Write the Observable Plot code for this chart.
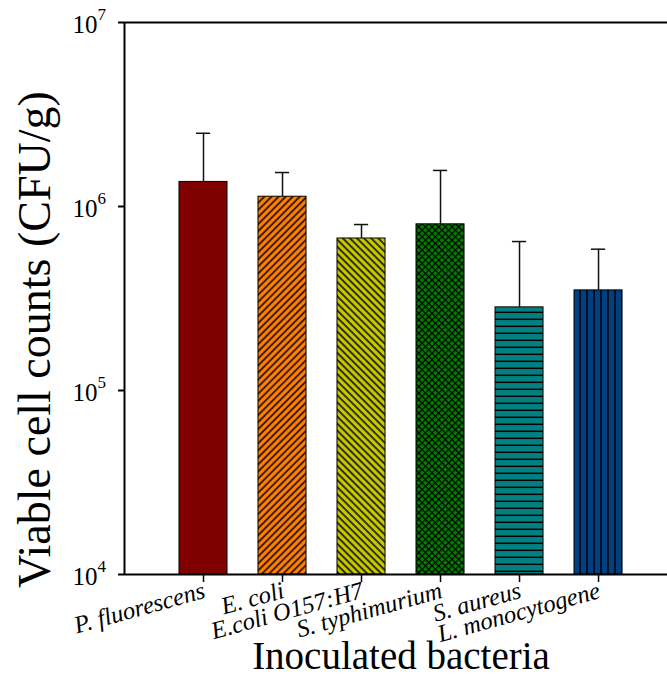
<!DOCTYPE html>
<html>
<head>
<meta charset="utf-8">
<script src="https://cdn.jsdelivr.net/npm/d3@7"></script>
<script src="https://cdn.jsdelivr.net/npm/@observablehq/plot@0.6"></script>
<style>
  html, body { margin: 0; padding: 0; background: #fff; }
  svg { display: block; }
</style>
</head>
<body>
<div id="chart"></div>
<script>
// ---- data ----
const categories = ["P. fluorescens", "E. coli", "E.coli O157:H7", "S. typhimurium", "S. aureus", "L. monocytogene"];
const means = [1.36e6, 1.13e6, 6.7e5, 8.0e5, 2.83e5, 3.5e5];
const sds = [1.14e6, 4.0e5, 1.28e5, 7.7e5, 3.62e5, 2.36e5];
const yTicks = [1e4, 1e5, 1e6, 1e7];
const fillColors = ["#800000", "#ff8000", "#c8c800", "#008000", "#008080", "#004080"];

const data = categories.map((c, i) => ({
  name: c, pos: i + 1, mean: means[i], sd: sds[i], top: means[i] + sds[i],
  fill: `url(#pat${i})`
}));
const positions = data.map(d => d.pos);

const serif = "Liberation Serif, Times New Roman, serif";
const halfBar = 0.304, halfCap = 0.09;

const chart = Plot.plot({
  width: 667,
  height: 680,
  marginLeft: 124,
  marginRight: 0,
  marginTop: 22,
  marginBottom: 106,
  style: { fontFamily: serif, background: "#fff", color: "#000" },
  x: { type: "linear", domain: [0, 6.873], axis: null },
  y: { type: "log", domain: [1e4, 1e7], axis: null },
  color: { type: "identity" },
  marks: [
    // bars
    Plot.rect(data, {
      x1: d => d.pos - halfBar, x2: d => d.pos + halfBar,
      y1: 1e4, y2: "mean",
      fill: "fill", stroke: "#000", strokeWidth: 1
    }),
    // error bars
    Plot.ruleX(data, { x: "pos", y1: "mean", y2: "top", stroke: "#111", strokeWidth: 1.5 }),
    Plot.ruleY(data, { y: "top", x1: d => d.pos - halfCap, x2: d => d.pos + halfCap, stroke: "#111", strokeWidth: 1.5 }),
    // ticks
    Plot.axisY(yTicks, { anchor: "left", tickSize: 6, strokeWidth: 2, tickFormat: () => "", label: null }),
    Plot.axisX(positions, { anchor: "bottom", tickSize: 8, strokeWidth: 1.5, tickFormat: () => "", label: null }),
    // frame lines
    Plot.ruleX([0], { y1: 1e4, y2: 1e7, stroke: "#000", strokeWidth: 2 }),
    Plot.ruleY([1e4, 1e7], { stroke: "#000", strokeWidth: 2 }),
    // y tick labels: "10" + superscript exponent
    Plot.text(yTicks, {
      x: 0, y: d => d, text: () => "10", textAnchor: "end",
      dx: -27, dy: 2, fontSize: 25, fontFamily: serif, fill: "#000"
    }),
    Plot.text(yTicks, {
      x: 0, y: d => d, text: d => String(Math.round(Math.log10(d))), textAnchor: "start",
      dx: -27, dy: -8, fontSize: 17, fontFamily: serif, fill: "#000"
    }),
    // x category labels (rotated, italic)
    Plot.text(data, {
      x: "pos", y: () => 1e4, text: "name",
      textAnchor: "end", lineAnchor: "bottom", rotate: -15.5,
      dx: 3, dy: 23, fontSize: 24.5, fontStyle: "italic", fontFamily: serif, fill: "#000"
    }),
    // axis titles
    Plot.text(["Viable cell counts (CFU/g)"], {
      frameAnchor: "left", textAnchor: "middle", lineAnchor: "middle", rotate: -90, dx: -89, dy: 41,
      fontSize: 46, fontFamily: serif, fill: "#000"
    }),
    Plot.text(["Inoculated bacteria"], {
      frameAnchor: "bottom", textAnchor: "middle", lineAnchor: "bottom", dx: 5, dy: 94,
      fontSize: 39, fontFamily: serif, fill: "#000"
    })
  ]
});

// hatch patterns
d3.select(chart).insert("defs", ":first-child").html(`
  <pattern id="pat0" patternUnits="userSpaceOnUse" width="8" height="8">
    <rect width="8" height="8" fill="${fillColors[0]}"/>
  </pattern>
  <pattern id="pat1" patternUnits="userSpaceOnUse" width="5" height="5" patternTransform="rotate(-45)">
    <rect width="5" height="5" fill="${fillColors[1]}"/>
    <line x1="-1" y1="1" x2="6" y2="1" stroke="#000" stroke-width="1.5"/>
  </pattern>
  <pattern id="pat2" patternUnits="userSpaceOnUse" width="5" height="5" patternTransform="rotate(45)">
    <rect width="5" height="5" fill="${fillColors[2]}"/>
    <line x1="-1" y1="1" x2="6" y2="1" stroke="#000" stroke-width="1.5"/>
  </pattern>
  <pattern id="pat3" patternUnits="userSpaceOnUse" width="4.7" height="4.7" patternTransform="rotate(45)">
    <rect width="4.7" height="4.7" fill="${fillColors[3]}"/>
    <line x1="-1" y1="0.6" x2="6" y2="0.6" stroke="#000" stroke-width="1.2"/>
    <line x1="0.6" y1="-1" x2="0.6" y2="6" stroke="#000" stroke-width="1.2"/>
  </pattern>
  <pattern id="pat4" patternUnits="userSpaceOnUse" width="7" height="7">
    <rect width="7" height="7" fill="${fillColors[4]}"/>
    <line x1="-1" y1="4.3" x2="8" y2="4.3" stroke="#000" stroke-width="1.5"/>
  </pattern>
  <pattern id="pat5" patternUnits="userSpaceOnUse" width="7" height="7">
    <rect width="7" height="7" fill="${fillColors[5]}"/>
    <line x1="6" y1="-1" x2="6" y2="8" stroke="#000" stroke-width="1.5"/>
  </pattern>
`);

document.getElementById("chart").appendChild(chart);
</script>
</body>
</html>
